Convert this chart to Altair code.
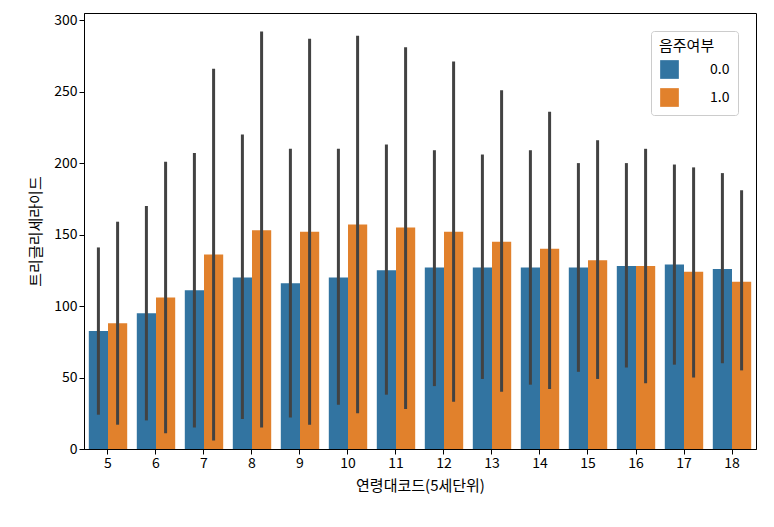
import altair as alt
import pandas as pd

codes = list(range(5, 19))
mean0 = [82.5, 95, 111, 120, 116, 120, 125, 127, 127, 127, 127, 128, 129, 126]
lo0 = [24, 20, 15, 21, 22, 31, 38, 44, 49, 45, 54, 57, 59, 60]
hi0 = [141, 170, 207, 220, 210, 210, 213, 209, 206, 209, 200, 200, 199, 193]
mean1 = [88, 106, 136, 153, 152, 157, 155, 152, 145, 140, 132, 128, 124, 117]
lo1 = [17, 11, 6, 15, 17, 25, 28, 33, 40, 42, 49, 46, 50, 55]
hi1 = [159, 201, 266, 292, 287, 289, 281, 271, 251, 236, 216, 210, 197, 181]

rows = []
for i, c in enumerate(codes):
    rows.append(dict(code=c, g="0.0", m=mean0[i], lo=lo0[i], hi=hi0[i]))
    rows.append(dict(code=c, g="1.0", m=mean1[i], lo=lo1[i], hi=hi1[i]))
df = pd.DataFrame(rows)

x = alt.X("code:O", title="연령대코드(5세단위)",
          scale=alt.Scale(paddingInner=0.2, paddingOuter=0.1),
          axis=alt.Axis(labelAngle=0, titlePadding=8))
xo = alt.XOffset("g:N")
color = alt.Color("g:N", title="음주여부",
                  scale=alt.Scale(domain=["0.0", "1.0"], range=["#3274a1", "#e1812c"]),
                  legend=alt.Legend(orient="top-right", symbolType="square", symbolSize=350,
                                    strokeColor="#cccccc", fillColor="white", padding=8,
                                    cornerRadius=3, labelFontSize=14, titleFontSize=15,
                                    rowPadding=8, labelOffset=30))

bars = alt.Chart(df).mark_bar().encode(
    x=x, xOffset=xo,
    y=alt.Y("m:Q", title="트리글리세라이드", scale=alt.Scale(domain=[0, 305], nice=False),
            axis=alt.Axis(values=[0, 50, 100, 150, 200, 250, 300], grid=False, titlePadding=10)),
    color=color)
err = alt.Chart(df).mark_rule(color="#424242", strokeWidth=3).encode(
    x=x, xOffset=xo, y="lo:Q", y2="hi:Q")

chart = (bars + err).properties(
    width=672, height=436,
    padding={"left": 20, "top": 5, "right": 5, "bottom": 5}
).configure(
    font="Noto Sans CJK KR"
).configure_view(stroke="black", strokeWidth=1).configure_axis(
    labelFontSize=14, titleFontSize=15, titleFontWeight="normal", labelColor="black",
    titleColor="black", domainColor="black", tickColor="black", tickSize=5, grid=False
).configure_legend(titleFontWeight="normal", labelColor="black", titleColor="black")

chart.save("out.html", embed_options={"renderer": "svg", "actions": False})
